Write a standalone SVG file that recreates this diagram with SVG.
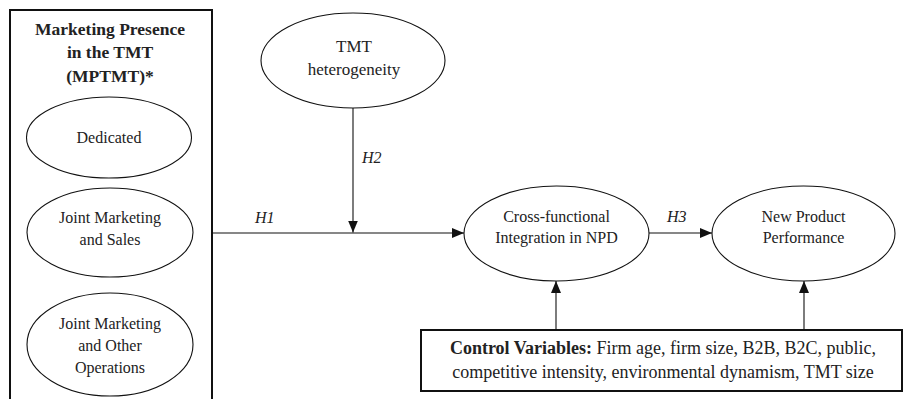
<svg xmlns="http://www.w3.org/2000/svg" width="903" height="399" viewBox="0 0 903 399">
<style>
  .t{font-family:"Liberation Serif","Times New Roman",serif;font-size:16px;fill:#222;text-anchor:middle}
  .b{font-weight:bold}
  .ctl{font-size:18px}
  .h{font-family:"Liberation Serif","Times New Roman",serif;font-size:16px;font-style:italic;fill:#222}
  .n{fill:#fff;stroke:#111;stroke-width:1.1}
  .box{fill:#fff;stroke:#111;stroke-width:2}
  .c{stroke:#111;stroke-width:1.1;fill:none}
</style>
<defs>
  <marker id="ah" viewBox="0 0 12 10" refX="12" refY="5" markerWidth="12" markerHeight="10" markerUnits="userSpaceOnUse" orient="auto">
    <path d="M0,0 L12,5 L0,10 Z" fill="#111"/>
  </marker>
</defs>
<rect width="903" height="399" fill="#fff"/>

<g id="mptmt">
  <rect class="box" x="10" y="10" width="202" height="395"/>
  <text class="t b" x="110" y="35" style="font-size:17.5px">Marketing Presence</text>
  <text class="t b" x="110" y="58" style="font-size:17.5px">in the TMT</text>
  <text class="t b" x="110" y="82" style="font-size:17.5px">(MPTMT)*</text>
</g>
<g id="dedicated">
  <ellipse class="n" cx="109" cy="137.5" rx="82.5" ry="40.5"/>
  <text class="t" x="109" y="143">Dedicated</text>
</g>
<g id="joint-sales">
  <ellipse class="n" cx="110" cy="232.5" rx="83" ry="44.5"/>
  <text class="t" x="110" y="223">Joint Marketing</text>
  <text class="t" x="110" y="245">and Sales</text>
</g>
<g id="joint-other">
  <ellipse class="n" cx="110" cy="344.5" rx="83" ry="51.5"/>
  <text class="t" x="110" y="329">Joint Marketing</text>
  <text class="t" x="110" y="351">and Other</text>
  <text class="t" x="110" y="373">Operations</text>
</g>
<g id="tmt-heterogeneity">
  <ellipse class="n" cx="353" cy="60.5" rx="92" ry="47.5"/>
  <text class="t" x="354" y="52" style="font-size:17px">TMT</text>
  <text class="t" x="354" y="75" style="font-size:17px">heterogeneity</text>
</g>
<g id="cross-functional">
  <ellipse class="n" cx="556.5" cy="233.5" rx="92.5" ry="47.5"/>
  <text class="t" x="556.5" y="222">Cross-functional</text>
  <text class="t" x="556.5" y="243">Integration in NPD</text>
</g>
<g id="npp">
  <ellipse class="n" cx="803.5" cy="233.5" rx="91.5" ry="47.5"/>
  <text class="t" x="803.5" y="222">New Product</text>
  <text class="t" x="803.5" y="243">Performance</text>
</g>
<g id="controls">
  <rect class="box" x="421" y="330" width="481" height="61"/>
  <text class="t ctl" x="663" y="354"><tspan class="b">Control Variables:</tspan> Firm age, firm size, B2B, B2C, public,</text>
  <text class="t ctl" x="663" y="378">competitive intensity, environmental dynamism, TMT size</text>
</g>

<g id="connectors">
  <line class="c" x1="212" y1="233" x2="464" y2="233" marker-end="url(#ah)"/>
  <line class="c" x1="353" y1="108" x2="353" y2="232.5" marker-end="url(#ah)"/>
  <line class="c" x1="649" y1="233" x2="712" y2="233" marker-end="url(#ah)"/>
  <line class="c" x1="556" y1="330" x2="556" y2="281" marker-end="url(#ah)"/>
  <line class="c" x1="804" y1="330" x2="804" y2="281" marker-end="url(#ah)"/>
  <text class="h" x="255" y="223">H1</text>
  <text class="h" x="362" y="163">H2</text>
  <text class="h" x="667" y="222">H3</text>
</g>
</svg>
